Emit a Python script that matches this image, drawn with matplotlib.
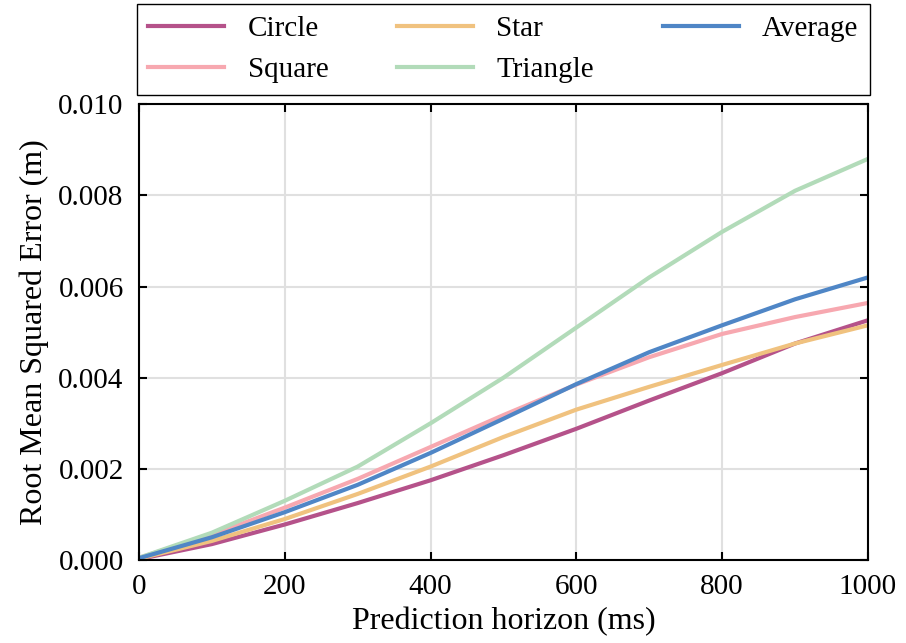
import matplotlib
matplotlib.use("Agg")
import matplotlib.pyplot as plt
import numpy as np

plt.rcParams['font.family'] = ['Liberation Serif', 'DejaVu Serif']
plt.rcParams['mathtext.fontset'] = 'stix'

horizon = [0, 100, 200, 300, 400, 500, 600, 700, 800, 900, 1000]
circle = [0.00002, 0.00035, 0.00078, 0.00125, 0.00175, 0.0023, 0.00288, 0.0035, 0.0041, 0.00475, 0.00526]
square = [0.00005, 0.00055, 0.00115, 0.00178, 0.00248, 0.00318, 0.00385, 0.00445, 0.00496, 0.00533, 0.00564]
star = [0.00003, 0.00042, 0.0009, 0.00145, 0.00205, 0.0027, 0.0033, 0.0038, 0.00428, 0.00475, 0.00515]
triangle = [0.00005, 0.0006, 0.0013, 0.00205, 0.003, 0.004, 0.0051, 0.0062, 0.0072, 0.0081, 0.0088]
average = [0.00004, 0.0005, 0.00105, 0.00165, 0.00235, 0.0031, 0.00386, 0.00456, 0.00515, 0.00572, 0.0062]

series = [("Circle", circle, "#b5528a"),
          ("Square", square, "#f7a8b0"),
          ("Star", star, "#f0c27f"),
          ("Triangle", triangle, "#b2dbb9"),
          ("Average", average, "#4f86c6")]

fig = plt.figure(figsize=(9.06, 6.43), dpi=100)
ax = fig.add_axes([0.1534, 0.129, 0.8046, 0.709])

for name, vals, col in series:
    ax.plot(horizon, vals, color=col, lw=3, label=name)

ax.set_xlim(0, 1000)
ax.set_ylim(0, 0.010)
ax.set_xticks([0, 200, 400, 600, 800, 1000])
ax.set_yticks([0, 0.002, 0.004, 0.006, 0.008, 0.010])
ax.set_yticklabels(["0.000", "0.002", "0.004", "0.006", "0.008", "0.010"])
ax.grid(True, color="#e0e0e0", lw=1.5)
ax.set_axisbelow(True)
ax.tick_params(direction='in', length=6, width=1.5, top=True, right=True, labelsize=21)
ax.tick_params(axis='y', pad=11)
ax.tick_params(axis='x', pad=10)
for s in ax.spines.values():
    s.set_linewidth(1.5)
ax.set_xlabel("Prediction horizon (ms)", fontsize=23, labelpad=5)
ax.set_ylabel("Root Mean Squared Error (m)", fontsize=23, labelpad=7)

leg = ax.legend(loc='lower left', bbox_to_anchor=(-0.003, 1.02, 1.006, 0.2), mode='expand',
                ncol=3, borderaxespad=0, fancybox=False, edgecolor='black', fontsize=21,
                handlelength=2.6, handletextpad=0.8, labelspacing=0.5, framealpha=1,
                borderpad=0.4)
leg.get_frame().set_linewidth(1.0)

fig.savefig("out.png", dpi=100)
